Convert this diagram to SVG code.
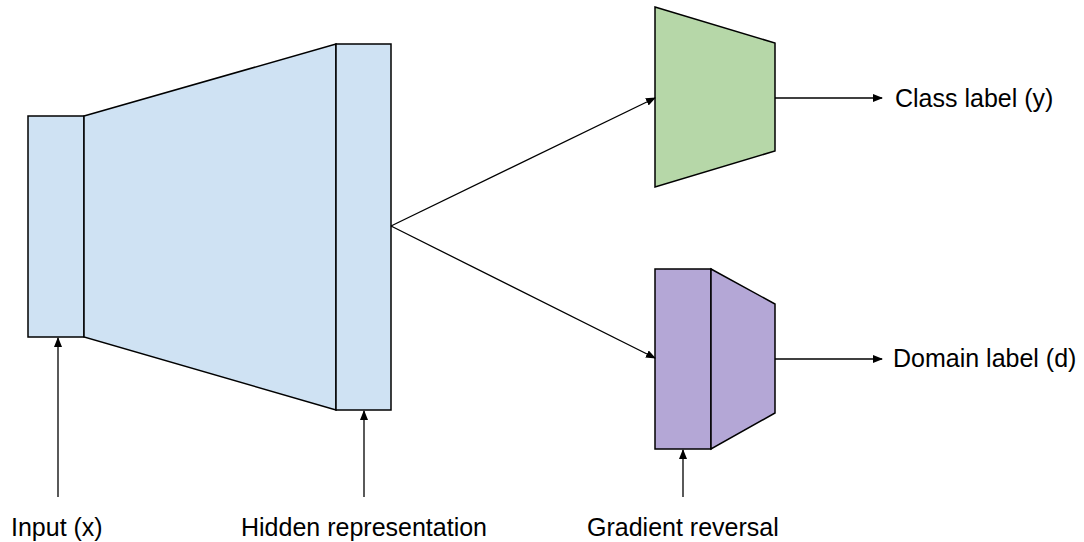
<svg xmlns="http://www.w3.org/2000/svg" width="1084" height="542" viewBox="0 0 1084 542">
  <style>
    .shape { stroke: #000; stroke-width: 1.5; stroke-linejoin: miter; }
    .feat { fill: #cfe2f3; }
    .cls { fill: #b6d7a8; }
    .dom { fill: #b4a7d6; }
    .edge { stroke: #000; stroke-width: 1.3; fill: none; marker-end: url(#arrow); }
    .label { font-family: "Liberation Sans", Arial, sans-serif; font-size: 25px; fill: #000; }
  </style>
  <defs>
    <marker id="arrow" markerWidth="10" markerHeight="8" refX="9" refY="4" orient="auto" markerUnits="userSpaceOnUse">
      <path d="M0,0 L10,4 L0,8 Z" fill="#000"/>
    </marker>
  </defs>
  <rect width="1084" height="542" fill="#fff"/>

  <!-- feature extractor -->
  <g id="input-layer">
    <rect class="shape feat" x="28" y="116" width="56" height="221"/>
  </g>
  <g id="encoder">
    <polygon class="shape feat" points="84,116 336,44 336,410 84,337"/>
  </g>
  <g id="hidden-layer">
    <rect class="shape feat" x="336" y="44" width="55" height="366"/>
  </g>

  <!-- label predictor -->
  <g id="class-head">
    <polygon class="shape cls" points="655,7 775,43 775,151 655,187"/>
  </g>

  <!-- domain classifier with gradient reversal layer -->
  <g id="grl">
    <rect class="shape dom" x="655" y="269" width="56" height="180"/>
  </g>
  <g id="domain-head">
    <polygon class="shape dom" points="711,269 775,304 775,413 711,449"/>
  </g>

  <g id="connectors">
    <line class="edge" x1="391" y1="226" x2="655" y2="98"/>
    <line class="edge" x1="391" y1="226" x2="655" y2="358"/>
    <line class="edge" x1="775" y1="98" x2="882" y2="98"/>
    <line class="edge" x1="775" y1="359" x2="882" y2="359"/>
    <line class="edge" x1="58" y1="497" x2="58" y2="338"/>
    <line class="edge" x1="364" y1="497" x2="364" y2="411"/>
    <line class="edge" x1="683" y1="497" x2="683" y2="450"/>
  </g>

  <g id="labels">
    <text class="label" x="895" y="107">Class label (y)</text>
    <text class="label" x="893" y="367">Domain label (d)</text>
    <text class="label" x="11" y="536">Input (x)</text>
    <text class="label" x="241" y="536">Hidden representation</text>
    <text class="label" x="587" y="536">Gradient reversal</text>
  </g>
</svg>
